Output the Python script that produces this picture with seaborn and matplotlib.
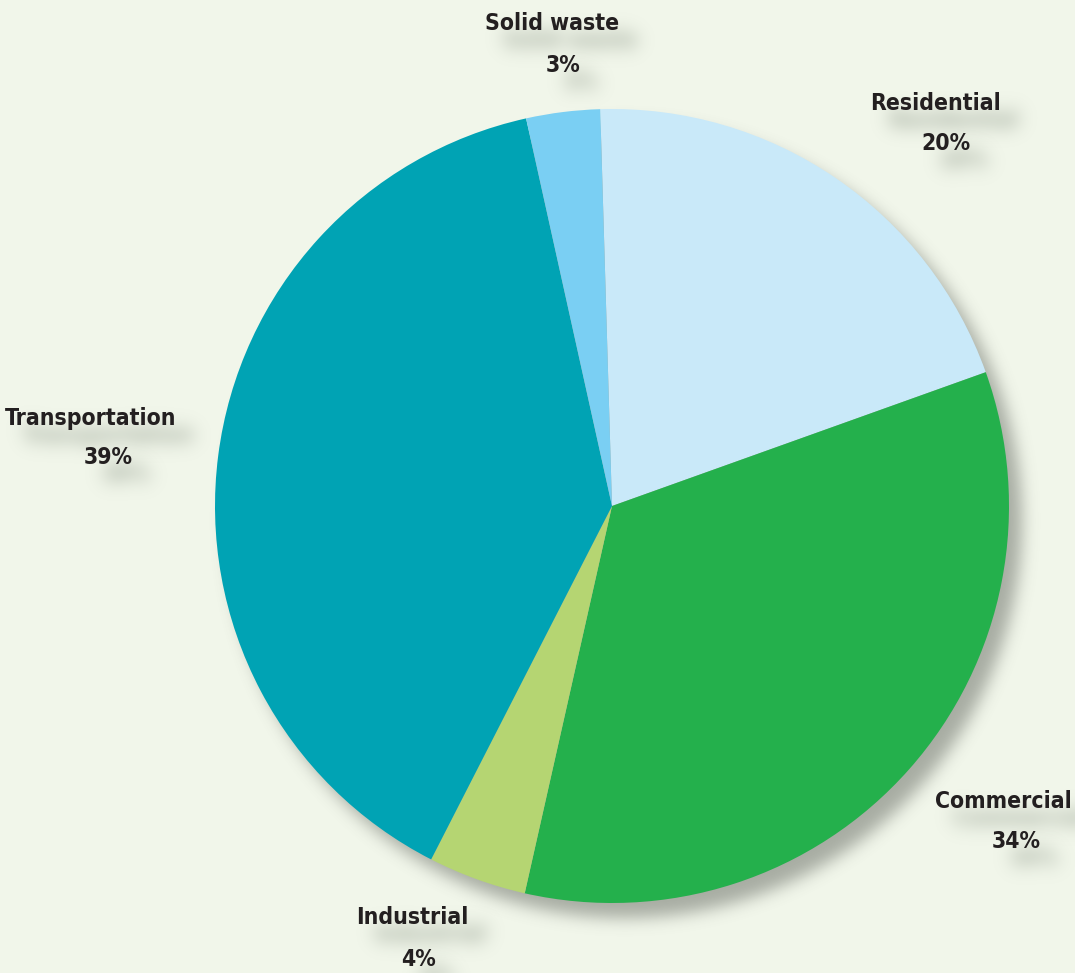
import numpy as np
import matplotlib
matplotlib.use("Agg")
import matplotlib.pyplot as plt
from matplotlib.patches import Circle
import seaborn as sns

# Shares of emissions by sector (percent)
categories = ["Residential", "Commercial", "Industrial", "Transportation", "Solid waste"]
shares = [20, 34, 4, 39, 3]
colors = ["#C9E9F9", "#24B04C", "#B5D572", "#00A3B4", "#7ACFF3"]

BG = "#F1F6EA"
TEXT = "#231F20"

sns.set_style("white")
plt.rcParams["font.family"] = ["DejaVu Sans Condensed", "DejaVu Sans"]
plt.rcParams["font.stretch"] = "condensed"


def gaussian_blur(a, sigma):
    r = int(3 * sigma)
    x = np.arange(-r, r + 1)
    k = np.exp(-x ** 2 / (2.0 * sigma ** 2))
    k /= k.sum()
    p = np.pad(a, ((r, r), (0, 0)))
    out = np.zeros_like(a)
    for i in range(2 * r + 1):
        out += k[i] * p[i:i + a.shape[0]]
    p = np.pad(out, ((0, 0), (r, r)))
    out2 = np.zeros_like(a)
    for i in range(2 * r + 1):
        out2 += k[i] * p[:, i:i + a.shape[1]]
    return out2


def drop_shadow(sigma, dx, dy, color, alpha):
    rgb = matplotlib.colors.to_rgb(color)

    def _filter(im, dpi):
        pad = int(3 * sigma + max(abs(dx), abs(dy))) + 2
        a = np.pad(im[..., 3], pad)
        a = gaussian_blur(a, sigma)
        a = np.roll(a, dx, axis=1)
        a = np.roll(a, dy, axis=0)
        out = np.zeros(a.shape + (4,), dtype=float)
        out[..., 0], out[..., 1], out[..., 2] = rgb
        out[..., 3] = np.clip(a * alpha, 0, 1)
        return out, -pad, -pad

    return _filter


W, H = 1075, 973
fig = plt.figure(figsize=(W / 100, H / 100), dpi=100, facecolor=BG)
ax = fig.add_axes([0, 0, 1, 1])
ax.set_facecolor(BG)

center = (612, H - 506)
radius = 397

# soft drop shadow behind the pie
shadow = Circle(center, radius, facecolor="black", edgecolor="none", zorder=0)
shadow.set_agg_filter(drop_shadow(8, 13, 15, "#4E534C", 0.45))
ax.add_patch(shadow)

wedges, _ = ax.pie(shares, colors=colors, startangle=91.7, counterclock=False,
                   radius=radius, center=center,
                   wedgeprops=dict(linewidth=0))
for w in wedges:
    w.set_zorder(2)

ax.set_xlim(0, W)
ax.set_ylim(0, H)
ax.axis("off")

# label placement (name line, percent line) in figure pixel coordinates
name_pos = {
    "Residential": (936, 103),
    "Commercial": (1003, 802),
    "Industrial": (412, 918),
    "Transportation": (91, 418),
    "Solid waste": (552, 24),
}
pct_pos = {
    "Residential": (946, 143),
    "Commercial": (1016, 842),
    "Industrial": (418, 959),
    "Transportation": (108, 458),
    "Solid waste": (563, 65),
}

text_shadow = drop_shadow(9, 18, 17, "#7F8A7B", 0.75)
for cat, val in zip(categories, shares):
    for (x, y), s in ((name_pos[cat], cat), (pct_pos[cat], f"{val}%")):
        kw = dict(ha="center", va="center", fontsize=16.5, fontweight="bold",
                  fontstretch="condensed")
        sh = ax.text(x, H - y, s, color="black", zorder=3, **kw)
        sh.set_agg_filter(text_shadow)
        ax.text(x, H - y, s, color=TEXT, zorder=4, **kw)

fig.savefig("out.png", dpi=100, facecolor=BG)
